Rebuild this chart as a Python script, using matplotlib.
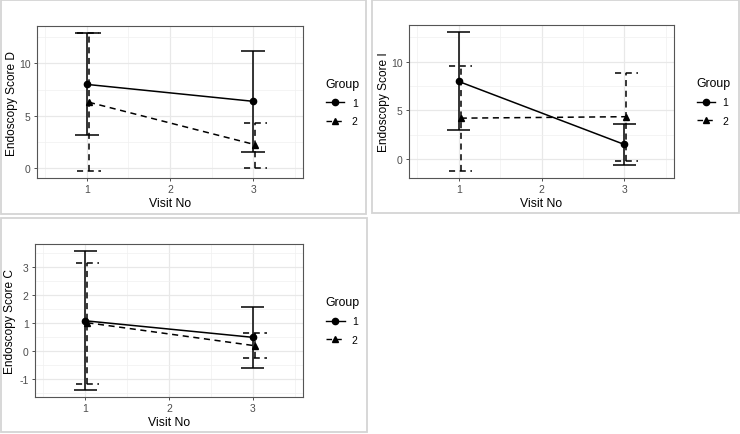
import numpy as np
import matplotlib
matplotlib.use('Agg')
import matplotlib.pyplot as plt
from matplotlib.ticker import MultipleLocator
from matplotlib.patches import Rectangle

plt.rcParams['font.family'] = ['Liberation Sans', 'DejaVu Sans']
plt.rcParams['axes.unicode_minus'] = False
plt.rcParams['lines.dashed_pattern'] = [4.0, 3.0]

# visits and groups
visits = [1, 3]
groups = ['1', '2']

# Endoscopy Score D: mean, lower, upper per group
d_mean = {'1': [8.0, 6.39], '2': [6.3, 2.26]}
d_low = {'1': [3.18, 1.6], '2': [-0.25, 0.03]}
d_high = {'1': [12.9, 11.2], '2': [12.9, 4.37]}

# Endoscopy Score I
i_mean = {'1': [7.97, 1.5], '2': [4.2, 4.35]}
i_low = {'1': [2.94, -0.65], '2': [-1.23, -0.2]}
i_high = {'1': [13.05, 3.6], '2': [9.52, 8.84]}

# Endoscopy Score C
c_mean = {'1': [1.09, 0.5], '2': [1.02, 0.2]}
c_low = {'1': [-1.38, -0.58], '2': [-1.17, -0.25]}
c_high = {'1': [3.58, 1.57], '2': [3.15, 0.65]}

W, H = 740, 435
fig = plt.figure(figsize=(W / 100, H / 100), dpi=100)
fig.patch.set_facecolor('white')


def px_axes(l, t, r, b):
    return fig.add_axes([l / W, 1 - b / H, (r - l) / W, (b - t) / H])


def box(l, t, r, b):
    fig.patches.append(Rectangle((l / W, 1 - b / H), (r - l) / W, (b - t) / H,
                                 transform=fig.transFigure, fill=False,
                                 edgecolor='#d4d4d4', lw=1.3))


def panel(ax, mean, low, high, ylabel, ymaj):
    dodge = {'1': 0.0, '2': 0.025}
    styles = {'1': ('-', 'o'), '2': ('--', '^')}
    half = 0.14
    for g in groups:
        ls, mk = styles[g]
        x = np.array(visits, dtype=float) + dodge[g]
        ax.vlines(x, low[g], high[g], colors='black', linestyles=ls, lw=1.1, zorder=3)
        ax.hlines(low[g], x - half, x + half, colors='black', linestyles=ls, lw=1.1, zorder=3)
        ax.hlines(high[g], x - half, x + half, colors='black', linestyles=ls, lw=1.1, zorder=3)
        ax.plot(x, mean[g], linestyle=ls, marker=mk, color='black', lw=1.1,
                markersize=4.5, label=g, zorder=4)
    lo = min(min(low[g]) for g in groups)
    hi = max(max(high[g]) for g in groups)
    pad = (hi - lo) * 0.05
    ax.set_ylim(lo - pad, hi + pad)
    ax.set_xlim(0.4, 3.6)
    ax.set_xticks([1, 2, 3])
    ax.xaxis.set_minor_locator(MultipleLocator(0.5))
    ax.yaxis.set_major_locator(MultipleLocator(ymaj))
    ax.yaxis.set_minor_locator(MultipleLocator(ymaj / 2))
    ax.grid(which='major', color='#e8e8e8', lw=0.9)
    ax.grid(which='minor', color='#f0f0f0', lw=0.5)
    ax.set_axisbelow(True)
    for s in ax.spines.values():
        s.set_color('#555555')
        s.set_linewidth(0.8)
    ax.tick_params(which='major', length=2.5, width=0.6, color='#333333',
                   labelsize=7.5, labelcolor='#4d4d4d', pad=2)
    ax.tick_params(which='minor', length=0)
    ax.set_xlabel('Visit No', fontsize=8.8, labelpad=2)
    ax.set_ylabel(ylabel, fontsize=8.6)
    ax.yaxis.label.set_va('center')
    # y label centred about 25 px left of the panel
    ax.yaxis.set_label_coords(-25 / (ax.get_position().width * W), 0.5)
    leg = ax.legend(title='Group', loc='center left', bbox_to_anchor=(1.05, 0.5),
                    frameon=False, fontsize=7.5, title_fontsize=8.8, handlelength=1.8,
                    alignment='left', labelspacing=0.8, handletextpad=0.7)
    for line in leg.get_lines():
        line.set_linewidth(1.0)


box(1, 1, 366, 215)
box(372, 1, 739, 214)
box(1, 219, 367, 433)

ax1 = px_axes(37, 27, 303, 179)
panel(ax1, d_mean, d_low, d_high, 'Endoscopy Score D', 5)

ax2 = px_axes(409, 26, 674, 179)
panel(ax2, i_mean, i_low, i_high, 'Endoscopy Score I', 5)

ax3 = px_axes(35, 245, 303, 398)
panel(ax3, c_mean, c_low, c_high, 'Endoscopy Score C', 1)

fig.savefig('out.png', dpi=100)
